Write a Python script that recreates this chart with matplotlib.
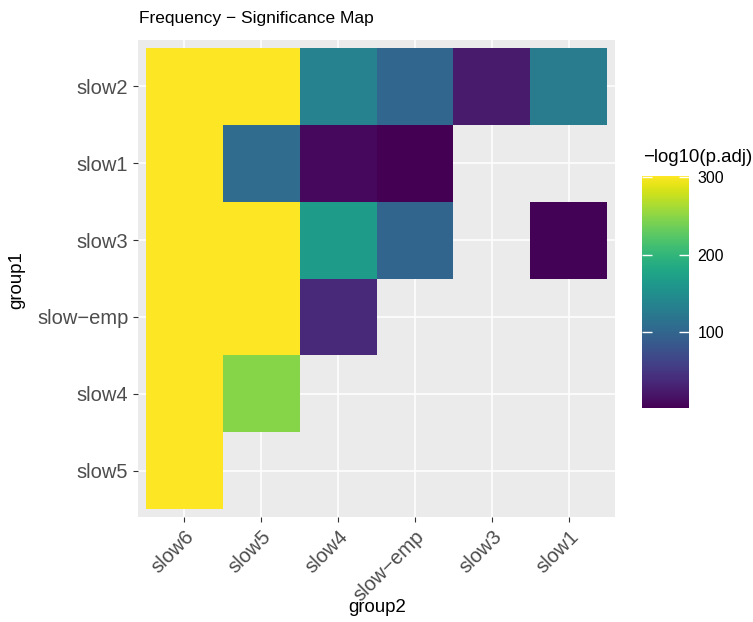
import matplotlib.pyplot as plt
import numpy as np

plt.rcParams['font.family'] = ['Liberation Sans', 'DejaVu Sans']

# rows top to bottom, columns left to right
group1 = ['slow2', 'slow1', 'slow3', 'slow\u2212emp', 'slow4', 'slow5']
group2 = ['slow6', 'slow5', 'slow4', 'slow\u2212emp', 'slow3', 'slow1']

nan = np.nan
neg_log_p = np.array([
    [302, 302, 134, 101, 23, 125],
    [302, 107, 8, 1.8, nan, nan],
    [302, 302, 167, 98, nan, 3],
    [302, 302, 35, nan, nan, nan],
    [302, 248, nan, nan, nan, nan],
    [302, nan, nan, nan, nan, nan],
])
cbar_ticks = [100, 200, 300]

W, H = 753, 622
fig = plt.figure(figsize=(W / 100, H / 100), dpi=100)
ax = fig.add_axes([138 / W, 1 - 517 / H, 477 / W, 477 / H])
ax.set_facecolor('#EBEBEB')

x_edges = np.arange(len(group2) + 1) - 0.5
y_edges = np.arange(len(group1) + 1) - 0.5
mesh = ax.pcolormesh(x_edges, y_edges, np.ma.masked_invalid(neg_log_p),
                     cmap='viridis', vmin=np.nanmin(neg_log_p),
                     vmax=np.nanmax(neg_log_p))

ax.set_xlim(-0.6, len(group2) - 0.4)
ax.set_ylim(len(group1) - 0.4, -0.6)
ax.set_xticks(range(len(group2)))
ax.set_xticklabels(group2, rotation=45, ha='right', va='top',
                   rotation_mode='anchor')
ax.set_yticks(range(len(group1)))
ax.set_yticklabels(group1)
ax.grid(color='white', linewidth=1.1)
ax.set_axisbelow(True)
for s in ax.spines.values():
    s.set_visible(False)
ax.tick_params(length=3.3, width=0.8, color='#333333', labelcolor='#4D4D4D',
               labelsize=14.5, pad=3.6)

fig.text(139 / W, 1 - 19 / H, 'Frequency \u2212 Significance Map',
         fontsize=12.5, ha='left', va='center')
fig.text(377 / W, 1 - 607 / H, 'group2', fontsize=13.4, ha='center', va='center')
fig.text(17 / W, 1 - 280 / H, 'group1', fontsize=13.4, ha='center', va='center',
         rotation=90)

# colour bar
cax = fig.add_axes([641.7 / W, 1 - 407.7 / H, 47.3 / W, 232 / H])
cb = fig.colorbar(mesh, cax=cax, ticks=cbar_ticks)
cb.outline.set_visible(False)
cax.tick_params(direction='in', length=7.2, width=1, color='white',
                labelcolor='black', labelsize=11.5, pad=6.3,
                left=True, right=True)
fig.text(643 / W, 1 - 157 / H, '\u2212log10(p.adj)', fontsize=13.4,
         ha='left', va='center')

fig.savefig('out.png', dpi=100)
